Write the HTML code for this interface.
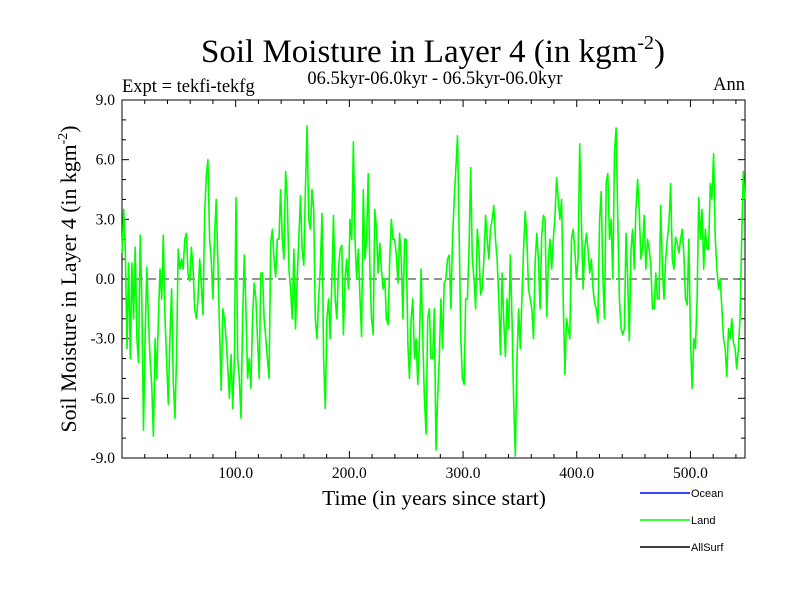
<!DOCTYPE html>
<html><head><meta charset="utf-8">
<style>
body{margin:0;background:#fff;}
svg{display:block;font-family:"Liberation Serif",serif;}
</style></head>
<body>
<svg id="chart" width="800" height="600">
<text x="433" y="62" font-size="33" text-anchor="middle">Soil Moisture in Layer 4 (in kgm<tspan dy="-13" font-size="20">-2</tspan><tspan dy="13">)</tspan></text>
<text x="435" y="84" font-size="18.5" text-anchor="middle">06.5kyr-06.0kyr - 06.5kyr-06.0kyr</text>
<text x="122" y="92" font-size="18.5">Expt = tekfi-tekfg</text>
<text x="745" y="90" font-size="18.5" text-anchor="end">Ann</text>
<text transform="translate(76,279) rotate(-90)" font-size="21.8" text-anchor="middle">Soil Moisture in Layer 4 (in kgm<tspan dy="-9" font-size="14">-2</tspan><tspan dy="9">)</tspan></text>
<text x="434" y="505" font-size="21.5" text-anchor="middle">Time (in years since start)</text>
<g id="axes"></g>
<g id="legend" font-family="Liberation Sans, sans-serif" font-size="11">
<line x1="640" y1="493" x2="690" y2="493" stroke="#0000ff" stroke-width="1.5"/>
<text x="691" y="497">Ocean</text>
<line x1="640" y1="520" x2="690" y2="520" stroke="#00ff00" stroke-width="1.5"/>
<text x="691" y="524">Land</text>
<line x1="640" y1="547" x2="690" y2="547" stroke="#000" stroke-width="1.5"/>
<text x="691" y="551">AllSurf</text>
</g>
</svg>
<script>
const yTicks=[-9,-6,-3,0,3,6,9];
const yTickLabels=["-9.0","-6.0","-3.0","0.0","3.0","6.0","9.0"];
const xTicks=[100,200,300,400,500];
const xTickLabels=["100.0","200.0","300.0","400.0","500.0"];
const yearStart=0, yearEnd=548;
const landValues=[1.3,3.5,1.5,-3.5,0.8,-4,0.8,-2,1.6,-3,-4.2,2.2,-1,-7.6,-3,0.6,-2,-4,-5.3,-7.9,-3,-5,-2,0.5,-1,2.2,-2,-4,-6.3,-3,-0.5,-5,-7,-4,1.5,0.5,1,0.5,2,2.3,0.2,-0.1,1.6,0.5,-1.5,-2,-1,1,-0.3,-1.8,3.2,5.2,6,2,1,-1,2,4,1,-2.5,-5.6,-1.5,-2,-3,-4.5,-6,-3.8,-6.5,-4,4.1,-4,-5,-7,-2,1.2,-1.5,-5,-4,-5.5,-2,-0.2,-1,-3,-5,0.3,0.3,-2,-3,-4,-5,1.8,2.5,1,0.1,2,
2,4.5,2,1,5.4,4,0.5,-0.5,-2,1.5,-2.5,0,2,4.2,1.5,0.7,4.5,7.7,3,2.5,4.5,3.5,-2,-3,-1,0.5,3.3,-4,-6.5,-2,-1,-3,0,3.2,-1,-2,0.5,1.5,1.7,-2.8,0,1,-0.5,3,2,6.9,2,0,1.5,-1,-2.9,4.5,1,2,5.3,0.5,-2,-2.8,3.5,2.5,0.3,1.8,0.5,-0.5,0,-2,-2.3,1,3,2,2,1.2,-0.2,2.3,1,-2,2,2,-3.3,-5,-2,-1,-4,-3,-5.3,-3,0.5,-3,-6,-7.8,-2,-1.5,-4,
-4,-1.5,-8.6,-6,-4,-1,-3.5,-0.2,0,1,1.2,-1.5,2,4,5.5,7.2,2.5,-3,-5,-5.3,-1,-1,1.5,5.6,1,0,-1.5,2.5,1.5,-0.8,-0.5,1,3.2,2,1,2.5,3,3.7,2,1,-1,-3.8,0.3,-2,-3.9,-1,-2.5,1.2,-2,-6,-8.9,-4,-1.5,-3.5,-1,1.5,3.4,2,-0.5,-1,-1.5,-3,0.8,2.3,1,-1.5,2.2,3.2,3,-1.9,1,2,0.5,2,3.2,5.1,4,3,4,-1,-4.8,-2,-2.5,-3,2,2.5,1.5,0,1,6.8,3,-0.5,1.5,2.3,
1.5,0.3,1,-0.5,-1.2,-1.5,-2.2,3,4.4,0,-2,4.9,5.3,2,3,0,6.4,7.6,3,-1,-2.5,-2.8,-2.5,2.3,0,-3.1,1.5,2.5,0.5,3.5,5,3.5,1,1.5,3.2,0.5,2,1.5,0.7,-1.5,-1.5,0.3,-1,-1,3.7,0.5,-1,1,2,2.8,4.8,1,0.5,2.1,1.8,1.3,2,2.5,1.2,-1,-1.3,2,-3,-5.5,-3,-3.5,-1,4.1,2,3.5,0.5,2.5,1.5,1.5,4.8,4,6.3,2,0.5,-0.5,0,-1.5,-3,-3.5,-4.9,-2.5,-3,-2,-3.2,-3.5,-4.5,-3.5,-2,2,5.4,4];

const L=122,R=745,T=100,B=458;
const xS=v=>L+(v-yearStart)/(yearEnd-yearStart)*(R-L);
const yS=v=>T+(9-v)/18*(B-T);
const NS="http://www.w3.org/2000/svg";
const svg=document.getElementById('chart');
const ax=document.getElementById('axes');
function mk(tag,attrs,parent){const e=document.createElementNS(NS,tag);for(const k in attrs)e.setAttribute(k,attrs[k]);(parent||ax).appendChild(e);return e;}

const z=mk('line',{x1:L,x2:R,y1:yS(0),y2:yS(0),stroke:'#555','stroke-width':1.2,'stroke-dasharray':'8,5'});



const n=landValues.length;
let d='';
landValues.forEach((v,i)=>{const yr=yearStart+i*(yearEnd-yearStart)/(n-1);d+=(i?'L':'M')+xS(yr).toFixed(1)+','+yS(v).toFixed(1);});
const p=mk('path',{d:d,fill:'none',stroke:'#00ff00','stroke-width':1.6,'stroke-linejoin':'round'},svg);



const fr=mk('rect',{x:L,y:T,width:R-L,height:B-T,fill:'none',stroke:'#000','stroke-width':1});



for(let v=-9;v<=9;v++){const y=yS(v);const len=(v%3===0)?7:4;
 mk('line',{x1:L,x2:L+len,y1:y,y2:y,stroke:'#000'});mk('line',{x1:R,x2:R-len,y1:y,y2:y,stroke:'#000'});}
yTicks.forEach((v,i)=>{const t=mk('text',{x:L-7,y:yS(v)+5,'font-size':15.5,'text-anchor':'end'});t.textContent=yTickLabels[i];
 
 });
for(let v=20;v<yearEnd;v+=20){const x=xS(v);const len=(v%100===0)?7:4;
 mk('line',{x1:x,x2:x,y1:B,y2:B-len,stroke:'#000'});mk('line',{x1:x,x2:x,y1:T,y2:T+len,stroke:'#000'});}
xTicks.forEach((v,i)=>{const t=mk('text',{x:xS(v),y:B+20,'font-size':15.5,'text-anchor':'middle'});t.textContent=xTickLabels[i];
 
 });
</script>
</body></html>
